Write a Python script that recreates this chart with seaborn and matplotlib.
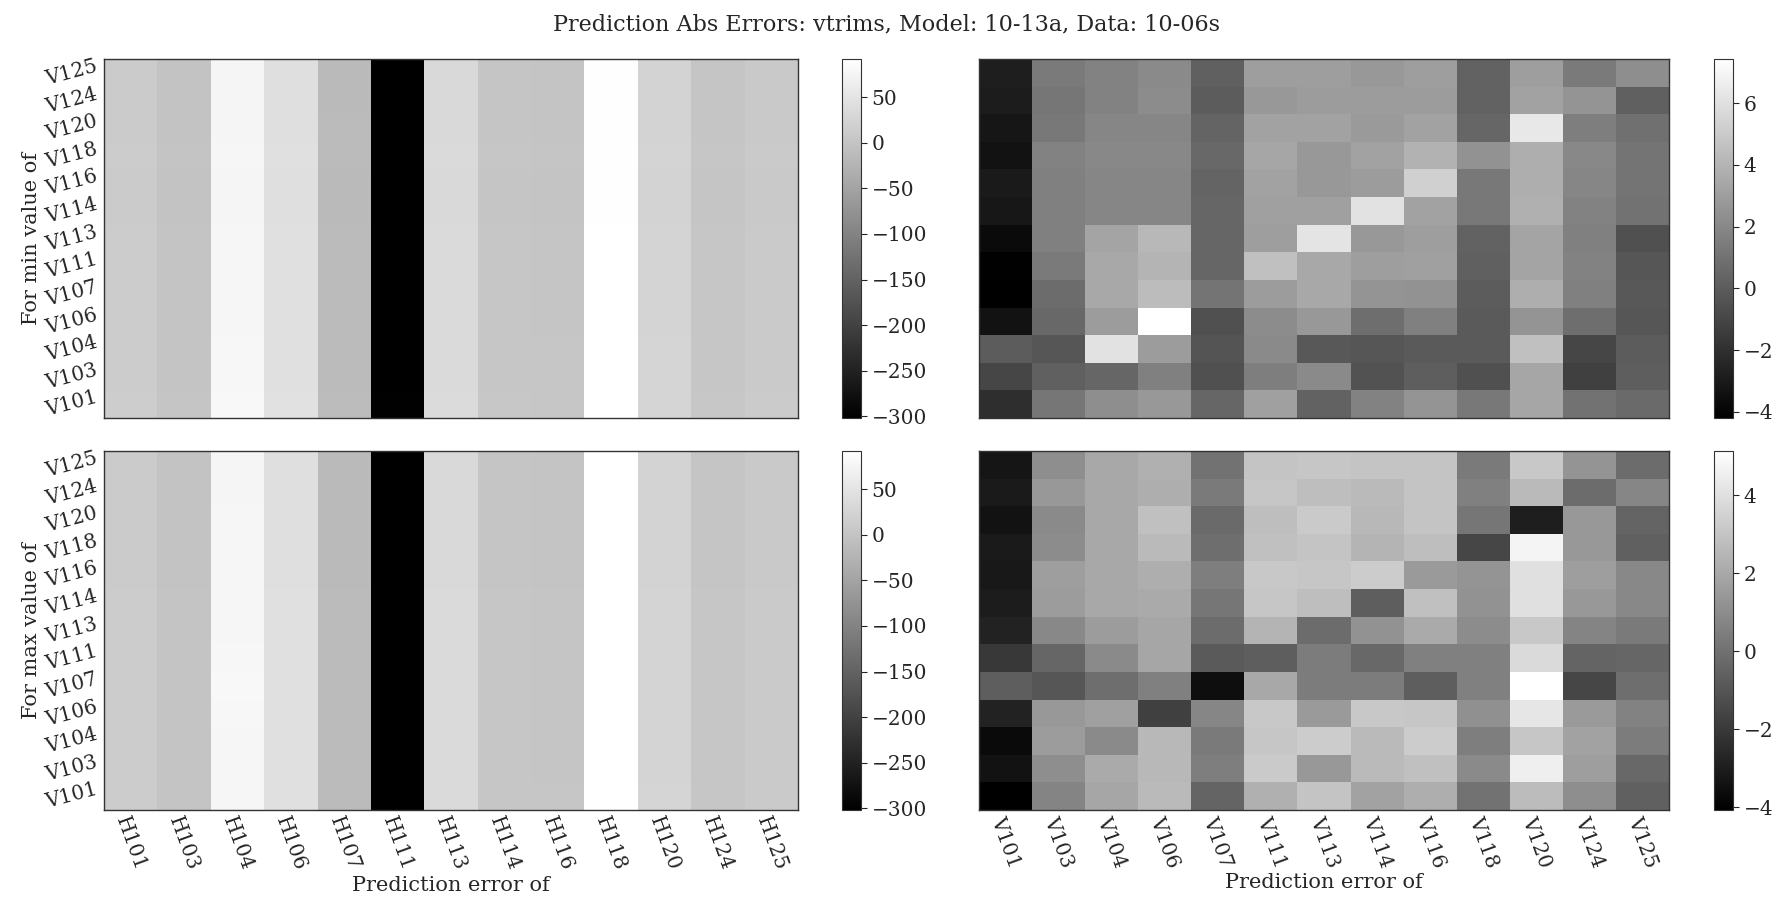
import numpy as np
import pandas as pd
import matplotlib
matplotlib.use("Agg")
import matplotlib.pyplot as plt
import seaborn as sns

sns.set_style("white")
plt.rcParams["font.family"] = ["DejaVu Serif"]

# ---- labels ----
rows = ["V125", "V124", "V120", "V118", "V116", "V114", "V113",
        "V111", "V107", "V106", "V104", "V103", "V101"]
h_cols = ["H101", "H103", "H104", "H106", "H107", "H111", "H113",
          "H114", "H116", "H118", "H120", "H124", "H125"]
v_cols = ["V101", "V103", "V104", "V106", "V107", "V111", "V113",
          "V114", "V116", "V118", "V120", "V124", "V125"]

# ---- H-trim errors, min setting of each V ----
h_err_min = [
    [11, -1, 76, 42, -15, -301, 33, 2, 1, 90, 24, 2, 8],
    [11, -1, 76, 42, -15, -301, 33, 2, 1, 90, 24, 2, 8],
    [11, -1, 76, 42, -14, -301, 33, 2, 1, 90, 24, 2, 8],
    [12, 0, 77, 43, -14, -301, 34, 3, 2, 90, 25, 3, 9],
    [11, -1, 76, 42, -15, -301, 33, 2, 1, 90, 24, 2, 8],
    [11, -1, 76, 42, -15, -301, 33, 2, 1, 90, 24, 2, 8],
    [12, 0, 77, 43, -14, -301, 34, 3, 2, 91, 25, 3, 9],
    [12, 0, 77, 43, -14, -302, 34, 3, 2, 91, 25, 3, 9],
    [12, 0, 78, 43, -14, -302, 34, 3, 2, 91, 25, 3, 9],
    [12, 0, 78, 43, -14, -301, 34, 3, 2, 91, 25, 3, 9],
    [13, 1, 79, 44, -13, -301, 35, 4, 3, 92, 26, 4, 10],
    [13, 1, 79, 44, -13, -301, 35, 4, 3, 92, 26, 4, 10],
    [14, 2, 80, 45, -12, -300, 36, 5, 4, 92, 27, 5, 11],
]

# ---- V-trim errors, min setting of each V ----
v_err_min = [
    [-2.83, 1.36, 1.73, 2.09, 0.18, 3.01, 3.01, 2.73, 3.01, 0.27, 3.01, 1.36, 2.28],
    [-2.92, 1.18, 1.73, 2.19, 0.00, 2.73, 2.92, 2.92, 2.92, 0.27, 3.19, 2.55, 0.18],
    [-3.20, 1.27, 1.91, 1.91, 0.36, 3.19, 3.19, 2.82, 3.19, 0.45, 6.38, 1.55, 0.91],
    [-3.38, 1.73, 2.00, 2.00, 0.54, 3.37, 2.73, 3.19, 3.92, 2.46, 3.74, 2.00, 1.09],
    [-3.01, 1.64, 1.91, 1.91, 0.36, 3.19, 2.73, 2.92, 5.29, 1.27, 3.74, 1.91, 1.09],
    [-3.11, 1.64, 1.91, 1.91, 0.45, 3.10, 3.10, 6.11, 3.19, 1.27, 3.83, 1.73, 1.00],
    [-3.74, 1.64, 3.28, 4.19, 0.45, 3.01, 6.20, 2.73, 3.01, 0.27, 3.28, 1.64, -0.55],
    [-4.11, 1.36, 3.46, 4.01, 0.45, 4.56, 3.46, 3.01, 3.10, 0.18, 3.28, 1.73, -0.28],
    [-4.20, 0.73, 3.46, 4.37, 1.09, 2.92, 3.46, 2.55, 2.46, 0.00, 3.74, 1.64, -0.19],
    [-3.38, 0.54, 2.92, 7.43, -0.55, 2.19, 2.73, 0.82, 1.64, -0.10, 2.55, 0.82, -0.28],
    [0.00, -0.28, 6.11, 2.92, -0.37, 2.09, -0.19, -0.28, -0.10, -0.10, 4.56, -1.01, 0.00],
    [-1.01, 0.18, 0.45, 1.64, -0.55, 1.55, 2.09, -0.46, 0.09, -0.55, 3.37, -1.28, 0.09],
    [-2.10, 1.18, 2.28, 2.73, 0.45, 3.10, 0.27, 1.73, 2.55, 1.27, 3.37, 1.00, 0.63],
]

# ---- H-trim errors, max setting of each V ----
h_err_max = [
    [11, -1, 76, 42, -15, -301, 33, 2, 1, 91, 24, 2, 8],
    [11, -1, 76, 42, -15, -301, 33, 2, 1, 91, 24, 2, 8],
    [11, -1, 77, 42, -15, -301, 33, 2, 1, 91, 24, 2, 8],
    [11, -1, 77, 42, -15, -301, 33, 2, 1, 91, 24, 2, 8],
    [11, -1, 77, 42, -15, -301, 33, 2, 1, 91, 24, 2, 8],
    [12, 0, 78, 43, -14, -301, 34, 3, 2, 91, 25, 3, 9],
    [12, 0, 78, 43, -14, -301, 34, 3, 2, 91, 25, 3, 9],
    [12, 0, 79, 43, -14, -302, 34, 3, 2, 92, 25, 3, 9],
    [12, 0, 80, 43, -14, -302, 34, 3, 2, 92, 25, 3, 9],
    [12, 0, 79, 43, -14, -301, 34, 3, 2, 92, 25, 3, 9],
    [12, 0, 78, 43, -14, -301, 34, 3, 2, 92, 25, 3, 9],
    [12, 0, 78, 43, -14, -301, 34, 3, 2, 92, 25, 3, 9],
    [13, 1, 78, 44, -13, -301, 35, 4, 3, 92, 26, 4, 10],
]

# ---- V-trim errors, max setting of each V ----
v_err_max = [
    [-3.28, 1.06, 2.00, 2.29, 0.05, 3.01, 3.08, 3.01, 3.01, 0.34, 3.15, 1.28, -0.17],
    [-3.13, 1.42, 2.00, 2.21, 0.34, 3.08, 2.79, 2.65, 3.01, 0.55, 2.65, -0.17, 0.77],
    [-3.42, 0.91, 2.00, 2.87, -0.24, 2.79, 3.23, 2.58, 3.01, 0.19, -2.99, 1.42, -0.46],
    [-3.13, 0.99, 2.00, 2.65, -0.10, 2.87, 3.01, 2.43, 2.79, -1.54, 4.74, 1.42, -0.60],
    [-3.20, 1.64, 2.00, 2.21, 0.48, 3.15, 3.08, 3.30, 1.49, 1.28, 4.02, 1.64, 0.84],
    [-3.06, 1.56, 2.00, 2.07, 0.19, 3.08, 2.79, -0.67, 2.87, 1.20, 4.02, 1.42, 0.84],
    [-2.84, 0.84, 1.56, 1.93, -0.17, 2.43, -0.17, 1.20, 2.07, 0.99, 3.15, 0.70, 0.34],
    [-2.05, -0.39, 0.91, 1.93, -0.82, -0.67, 0.41, -0.31, 0.55, 0.55, 3.80, -0.46, -0.39],
    [-0.67, -0.96, -0.10, 0.55, -3.56, 2.00, 0.41, 0.41, -0.67, 0.55, 5.14, -1.54, -0.10],
    [-2.84, 1.42, 1.71, -1.76, 0.77, 3.15, 1.49, 3.15, 3.08, 1.13, 4.24, 1.49, 0.63],
    [-3.71, 1.56, 0.91, 2.58, 0.34, 3.08, 3.30, 2.65, 3.30, 0.48, 3.08, 1.78, 0.41],
    [-3.42, 1.06, 2.07, 2.58, 0.48, 3.23, 1.42, 2.65, 2.87, 0.91, 4.53, 1.64, -0.31],
    [-4.07, 0.70, 1.93, 2.65, -0.46, 2.29, 3.01, 1.78, 2.21, 0.05, 2.72, 1.06, -0.60],
]

title = "Prediction Abs Errors: vtrims, Model: 10-13a, Data: 10-06s"

W, H = 1774, 901
fig = plt.figure(figsize=(W / 100, H / 100), dpi=100)


def box(x0, y0, x1, y1):
    """Axes rectangle from pixel edges (origin top-left)."""
    return [x0 / W, 1 - y1 / H, (x1 - x0) / W, (y1 - y0) / H]


row_px = [(59, 418), (451, 810)]
panels = [
    (h_err_min, h_cols, 0, 0, "For min value of"),
    (v_err_min, v_cols, 0, 1, None),
    (h_err_max, h_cols, 1, 0, "For max value of"),
    (v_err_max, v_cols, 1, 1, None),
]
col_px = {0: ((104, 798), (842, 861)), 1: ((979, 1669), (1714, 1733))}

edge = "#333333"
fs = 14.5

for data, cols, r, c, ylab in panels:
    (ax0, ax1), (cx0, cx1) = col_px[c]
    y0, y1 = row_px[r]
    ax = fig.add_axes(box(ax0, y0, ax1, y1))
    cax = fig.add_axes(box(cx0, y0, cx1, y1))
    df = pd.DataFrame(data, index=rows, columns=cols)
    sns.heatmap(df, ax=ax, cmap="gray", cbar_ax=cax,
                xticklabels=True, yticklabels=True)

    for s in ax.spines.values():
        s.set_visible(True)
        s.set_color(edge)
        s.set_linewidth(1.0)
    ax.tick_params(axis="both", direction="in", length=4, width=0.8,
                   color="black", labelsize=fs, pad=3)

    if r == 1:
        ax.set_xticklabels(cols, rotation=-70, ha="center", va="top",
                           fontsize=fs)
        ax.set_xlabel("Prediction error of", fontsize=15, labelpad=2)
    else:
        ax.set_xticklabels([])
        ax.set_xlabel("")

    if c == 0:
        ax.set_yticklabels(rows, rotation=15, ha="right", va="center",
                           fontsize=fs)
        ax.set_ylabel(ylab, fontsize=15, labelpad=2)
    else:
        ax.set_yticklabels([])
        ax.set_ylabel("")

    cb = ax.collections[0].colorbar
    cb.outline.set_linewidth(0.8)
    cb.outline.set_edgecolor(edge)
    cax.tick_params(direction="out", length=4, width=0.8, labelsize=fs)

fig.suptitle(title, x=0.5, y=0.985, fontsize=16)

fig.savefig("out.png", dpi=100)
